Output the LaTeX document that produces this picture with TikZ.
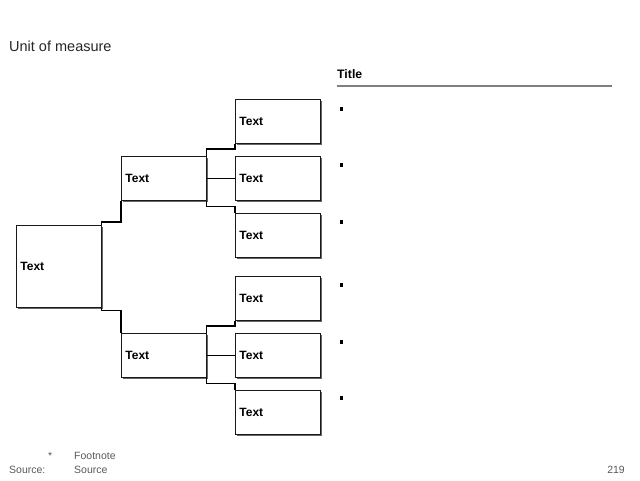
\documentclass[tikz,border=0pt]{standalone}
\usepackage{fontspec}
\setmainfont{Liberation Sans}
\usetikzlibrary{shadows}
\begin{document}
\begin{tikzpicture}[x=1pt,y=-1pt,
  box/.style={draw=black!90, line width=0.9pt, fill=white, anchor=north west,
    minimum width=85pt, inner xsep=4pt, inner ysep=0pt, text width=77pt, align=left,
    font=\bfseries\fontsize{12}{14}\selectfont,
    drop shadow={shadow xshift=2pt, shadow yshift=-2pt, fill=black!80, opacity=0.75}},
  conn/.style={draw=black, line width=1.1pt},
  bul/.style={fill=black, minimum size=3.4pt, inner sep=0pt},
  small/.style={font=\fontsize{10.5}{12}\selectfont, text=black!65, inner sep=0pt}]
\useasboundingbox (0,0) rectangle (640,480);
\node[anchor=west, inner sep=0pt, text=black!85, font=\fontsize{14.5}{16}\selectfont] (unit) at (9,46) {Unit of measure};
\node[anchor=west, inner sep=0pt, font=\bfseries\fontsize{12.3}{14}\selectfont] (title) at (337,74) {Title};
\coordinate (tl1) at (337,86);
\coordinate (tl2) at (612,86);
\draw[black!50, line width=1.6pt] (tl1) -- (tl2);

\node[box, minimum height=82pt] (big) at (16,225) {Text};
\node[box, minimum height=44pt] (mt) at (121,156) {Text};
\node[box, minimum height=44pt] (mb) at (121,333) {Text};
\node[box, minimum height=44pt] (r1) at (235,99) {Text};
\node[box, minimum height=44pt] (r2) at (235,156) {Text};
\node[box, minimum height=44pt] (r3) at (235,213) {Text};
\node[box, minimum height=44pt] (r4) at (235,276) {Text};
\node[box, minimum height=44pt] (r5) at (235,333) {Text};
\node[box, minimum height=44pt] (r6) at (235,390) {Text};

\draw[conn] (big.north east) -- ++(0,-3) -| (mt.south west);
\draw[conn] (big.south east) -- ++(0,3) -| (mb.north west);
\draw[conn] (mt.north east) -- ++(0,-7) -| (r1.south west);
\draw[conn] (mt.east) -- (r2.west);
\draw[conn] (mt.south east) -- ++(0,6) -| (r3.north west);
\draw[conn] (mb.north east) -- ++(0,-7) -| (r4.south west);
\draw[conn] (mb.east) -- (r5.west);
\draw[conn] (mb.south east) -- ++(0,6) -| (r6.north west);

\node[bul] (b1) at (341.5,109) {};
\node[bul] (b2) at (341.5,165) {};
\node[bul] (b3) at (341.5,222) {};
\node[bul] (b4) at (341.5,285) {};
\node[bul] (b5) at (341.5,342) {};
\node[bul] (b6) at (341.5,398) {};

\node[small, anchor=west] (star) at (48,456) {*};
\node[small, anchor=west] (fn) at (74,456) {Footnote};
\node[small, anchor=west] (src) at (9,470) {Source:};
\node[small, anchor=west] (srct) at (74,470) {Source};
\node[small, anchor=east] (pg) at (625,470) {219};
\end{tikzpicture}
\end{document}
